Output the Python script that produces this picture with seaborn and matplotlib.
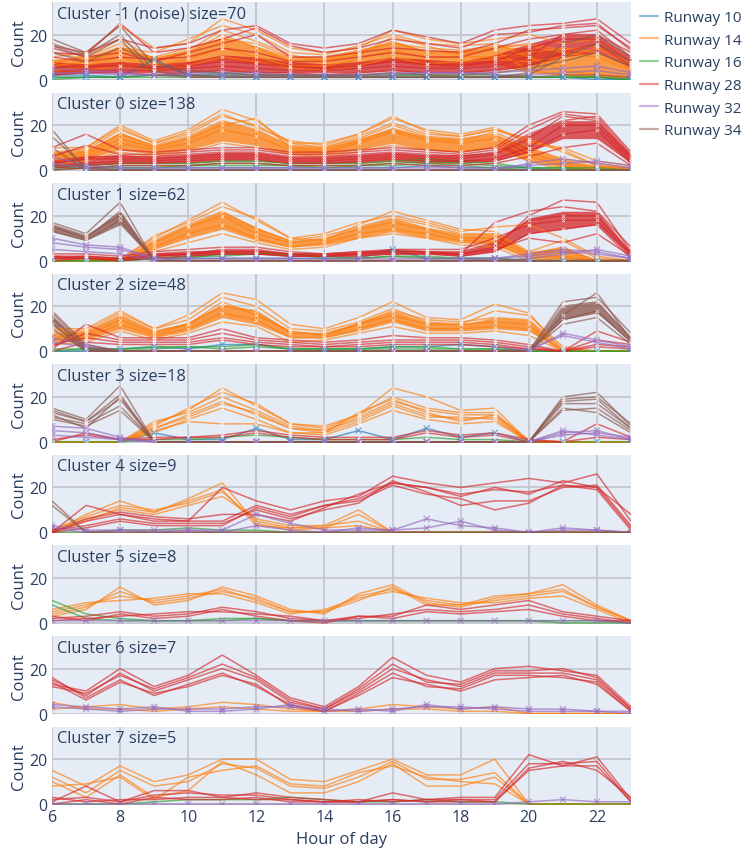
import numpy as np
import pandas as pd
import matplotlib
matplotlib.use("Agg")
import matplotlib.pyplot as plt
from matplotlib.lines import Line2D
import seaborn as sns

# ---------------------------------------------------------------------------
# Data: hourly movement counts per runway, grouped by day-cluster
# ---------------------------------------------------------------------------
HOURS = list(range(6, 24))
RUNWAYS = ["Runway 10", "Runway 14", "Runway 16", "Runway 28", "Runway 32", "Runway 34"]
CLUSTER_IDS = [-1, 0, 1, 2, 3, 4, 5, 6, 7]
CLUSTER_SIZES = [70, 138, 62, 48, 18, 9, 8, 7, 5]
X_TICKS = [6, 8, 10, 12, 14, 16, 18, 20, 22]
Y_TICKS = [0, 20]

Z = [0] * 18

cluster_noise = {
    "Runway 10": [[1, 1, 1, 2, 2, 2, 1, 1, 1, 1, 1, 1, 1, 1, 1, 1, 1, 0],
                  [2, 2, 1, 9, 2, 1, 1, 1, 1, 1, 1, 1, 1, 1, 1, 1, 0, 0]],
    "Runway 14": [[8, 10, 16, 8, 12, 20, 14, 8, 9, 12, 17, 12, 12, 13, 4, 2, 1, 1],
                  [4, 6, 10, 6, 9, 14, 10, 6, 6, 9, 13, 10, 10, 10, 12, 14, 12, 5],
                  [6, 8, 12, 10, 14, 18, 16, 10, 10, 13, 16, 14, 13, 15, 15, 12, 10, 4],
                  [10, 12, 24, 14, 16, 27, 22, 14, 12, 14, 22, 18, 16, 18, 20, 16, 18, 8],
                  [3, 4, 6, 4, 6, 10, 8, 5, 4, 6, 10, 7, 8, 9, 8, 10, 14, 6],
                  [12, 9, 14, 12, 18, 24, 20, 12, 11, 15, 20, 16, 15, 16, 10, 4, 2, 1],
                  [7, 11, 18, 9, 13, 22, 17, 11, 8, 11, 19, 15, 11, 14, 16, 13, 15, 7]],
    "Runway 16": [[1, 1, 1, 1, 1, 2, 2, 2, 1, 1, 2, 2, 1, 1, 1, 1, 1, 0],
                  [0, 1, 1, 2, 2, 3, 2, 2, 2, 2, 2, 2, 2, 2, 1, 1, 1, 0]],
    "Runway 28": [[15, 12, 18, 14, 16, 22, 24, 16, 14, 16, 22, 19, 16, 22, 24, 25, 27, 16],
                  [5, 6, 6, 5, 6, 8, 7, 6, 5, 6, 8, 7, 6, 8, 14, 18, 18, 8],
                  [3, 4, 4, 4, 5, 6, 5, 4, 4, 5, 6, 5, 5, 6, 10, 20, 22, 10],
                  [10, 8, 10, 9, 10, 14, 12, 8, 8, 10, 12, 10, 10, 14, 18, 20, 20, 12],
                  [14, 10, 12, 8, 12, 16, 20, 10, 10, 12, 14, 13, 12, 16, 22, 23, 24, 14],
                  [2, 3, 3, 2, 3, 4, 3, 3, 2, 3, 4, 3, 3, 4, 6, 12, 16, 6],
                  [12, 11, 25, 12, 14, 18, 23, 15, 12, 14, 18, 16, 14, 20, 21, 24, 25, 13]],
    "Runway 32": [[3, 3, 2, 2, 3, 3, 3, 2, 2, 2, 3, 3, 3, 3, 4, 5, 6, 3],
                  [5, 4, 3, 2, 2, 2, 2, 2, 2, 2, 2, 3, 3, 2, 2, 3, 4, 2]],
    "Runway 34": [[18, 12, 24, 6, 4, 3, 2, 2, 2, 2, 3, 2, 2, 3, 5, 8, 12, 6],
                  [15, 10, 18, 2, 1, 1, 1, 1, 1, 1, 1, 1, 1, 1, 2, 10, 16, 8],
                  [12, 8, 14, 8, 2, 1, 1, 1, 1, 1, 1, 1, 1, 1, 1, 2, 2, 1],
                  [16, 11, 20, 4, 1, 1, 1, 1, 1, 1, 1, 1, 1, 1, 3, 16, 20, 10]],
}
cluster_noise_core = {
    "Runway 14": ([3, 4, 6, 4, 6, 9, 7, 5, 5, 6, 8, 6, 6, 7, 3, 2, 1, 1],
                  [9, 10, 15, 10, 13, 19, 15, 10, 10, 13, 17, 13, 13, 15, 14, 13, 12, 5]),
    "Runway 28": ([2, 3, 3, 3, 3, 4, 3, 3, 3, 3, 4, 3, 3, 4, 6, 10, 12, 5],
                  [8, 7, 8, 7, 8, 11, 10, 8, 7, 8, 10, 9, 8, 11, 16, 20, 20, 10]),
}

cluster_0 = {
    "Runway 10": [[1, 1, 1, 1, 1, 1, 1, 1, 1, 1, 1, 2, 1, 1, 1, 0, 0, 0]],
    "Runway 14": [[10, 10, 20, 13, 18, 27, 22, 12, 12, 16, 23, 18, 16, 19, 12, 10, 4, 2],
                  [6, 8, 16, 11, 15, 22, 18, 11, 10, 14, 20, 15, 14, 16, 8, 3, 1, 1],
                  [4, 6, 12, 9, 12, 18, 15, 9, 8, 12, 17, 13, 12, 14, 6, 2, 0, 0],
                  [8, 9, 18, 12, 16, 24, 20, 12, 10, 15, 21, 16, 15, 18, 14, 8, 2, 1],
                  [2, 4, 8, 6, 8, 12, 10, 7, 6, 8, 11, 9, 8, 10, 4, 0, 0, 0],
                  [5, 7, 14, 10, 14, 20, 23, 10, 9, 13, 18, 14, 13, 17, 10, 5, 3, 1],
                  [7, 10, 19, 12, 17, 25, 19, 13, 11, 16, 24, 17, 15, 18, 13, 9, 2, 0]],
    "Runway 16": [[1, 1, 2, 2, 2, 3, 3, 2, 2, 2, 3, 4, 3, 2, 1, 1, 0, 0],
                  [0, 1, 1, 1, 2, 2, 2, 2, 1, 2, 2, 3, 2, 1, 0, 0, 0, 0],
                  [2, 2, 3, 3, 3, 4, 4, 3, 3, 3, 4, 5, 4, 3, 1, 1, 1, 0]],
    "Runway 28": [[10, 16, 9, 8, 9, 10, 10, 8, 8, 9, 10, 9, 8, 10, 20, 26, 25, 8],
                  [3, 5, 5, 5, 6, 7, 7, 5, 5, 6, 7, 6, 5, 7, 14, 24, 22, 5],
                  [2, 3, 4, 4, 5, 6, 6, 4, 4, 5, 6, 5, 4, 5, 10, 20, 20, 4],
                  [1, 2, 3, 3, 4, 5, 5, 3, 3, 4, 5, 4, 4, 4, 8, 16, 18, 3],
                  [4, 6, 6, 6, 7, 8, 8, 6, 6, 7, 8, 7, 6, 8, 16, 22, 24, 7],
                  [0, 1, 2, 2, 2, 3, 3, 2, 2, 2, 3, 2, 2, 3, 6, 10, 12, 2],
                  [6, 11, 7, 7, 8, 9, 9, 7, 7, 8, 9, 8, 7, 9, 18, 25, 23, 6]],
    "Runway 32": [[6, 2, 1, 1, 1, 1, 1, 1, 1, 1, 1, 1, 1, 1, 2, 3, 4, 2],
                  [3, 1, 0, 0, 0, 0, 0, 0, 0, 0, 0, 0, 0, 0, 3, 5, 3, 1]],
    "Runway 34": [[18] + Z[1:], [15, 1] + Z[2:], [10] + Z[1:]],
}
cluster_0_core = {
    "Runway 14": ([3, 5, 9, 7, 9, 13, 11, 7, 7, 9, 12, 9, 8, 10, 4, 1, 0, 0],
                  [8, 9, 17, 11, 15, 22, 18, 11, 10, 14, 19, 15, 14, 16, 10, 5, 2, 1]),
    "Runway 28": ([1, 2, 3, 3, 3, 4, 4, 3, 3, 3, 4, 3, 3, 4, 8, 14, 14, 3],
                  [4, 6, 7, 6, 7, 8, 8, 6, 6, 7, 8, 7, 7, 8, 16, 22, 22, 7]),
}

cluster_1 = {
    "Runway 10": [[0, 0, 0, 1, 1, 1, 1, 1, 1, 1, 5, 1, 1, 1, 0, 0, 0, 0]],
    "Runway 14": [[0, 0, 0, 8, 15, 20, 12, 8, 10, 14, 17, 14, 10, 10, 2, 5, 0, 0],
                  [0, 1, 1, 10, 18, 26, 18, 10, 9, 16, 22, 18, 14, 13, 4, 9, 1, 0],
                  [0, 0, 0, 6, 12, 16, 10, 6, 8, 12, 14, 12, 9, 8, 1, 2, 0, 0],
                  [0, 0, 0, 9, 16, 22, 14, 9, 11, 15, 19, 16, 12, 12, 3, 6, 0, 0],
                  [0, 0, 1, 4, 8, 12, 8, 5, 6, 10, 12, 10, 7, 6, 0, 1, 0, 0],
                  [0, 0, 0, 11, 17, 24, 19, 10, 12, 17, 20, 17, 13, 15, 16, 10, 2, 0]],
    "Runway 16": [[0, 0, 0, 1, 2, 2, 3, 3, 1, 1, 2, 2, 1, 1, 0, 0, 0, 0],
                  [0, 0, 0, 1, 1, 3, 3, 3, 2, 1, 2, 1, 1, 1, 0, 0, 0, 0]],
    "Runway 28": [[2, 2, 1, 3, 4, 4, 4, 3, 3, 4, 4, 4, 4, 8, 18, 20, 20, 3],
                  [1, 1, 0, 2, 3, 5, 5, 3, 2, 3, 5, 4, 3, 6, 20, 27, 26, 4],
                  [3, 3, 2, 4, 5, 6, 6, 4, 3, 4, 5, 5, 5, 10, 16, 18, 18, 2],
                  [0, 1, 0, 1, 2, 3, 3, 2, 2, 2, 3, 3, 2, 4, 12, 14, 16, 1],
                  [2, 1, 1, 3, 3, 4, 4, 3, 3, 3, 4, 4, 3, 17, 22, 24, 22, 6],
                  [1, 2, 1, 2, 3, 3, 3, 2, 2, 3, 3, 3, 3, 5, 10, 8, 12, 2]],
    "Runway 32": [[8, 6, 5, 1, 1, 1, 1, 1, 1, 1, 1, 1, 1, 1, 2, 4, 3, 1],
                  [5, 4, 3, 0, 0, 0, 0, 0, 0, 0, 0, 0, 0, 0, 1, 3, 5, 2],
                  [10, 7, 6, 1, 0, 0, 0, 0, 0, 0, 0, 0, 0, 1, 3, 5, 4, 1]],
    "Runway 34": [[15, 10, 22] + Z[3:], [17, 12, 26] + Z[3:],
                  [13, 9, 18] + Z[3:], [16, 11, 20] + Z[3:]],
}
cluster_1_core = {
    "Runway 14": ([0, 0, 0, 5, 10, 14, 9, 6, 7, 10, 13, 10, 8, 7, 1, 1, 0, 0],
                  [0, 0, 0, 9, 16, 22, 15, 9, 10, 15, 19, 15, 12, 12, 4, 6, 0, 0]),
    "Runway 28": ([1, 1, 0, 2, 2, 3, 3, 2, 2, 2, 3, 3, 2, 4, 12, 14, 16, 2],
                  [2, 2, 1, 3, 4, 5, 5, 3, 3, 4, 5, 4, 4, 8, 19, 22, 22, 4]),
    "Runway 34": ([13, 9, 16] + Z[3:], [16, 11, 22] + Z[3:]),
}

cluster_2 = {
    "Runway 10": [[0, 0, 1, 2, 1, 3, 3, 1, 1, 1, 2, 2, 3, 2, 0, 0, 0, 0]],
    "Runway 14": [[8, 8, 16, 9, 12, 20, 18, 8, 8, 12, 16, 12, 12, 13, 12, 0, 0, 0],
                  [10, 10, 18, 10, 16, 26, 23, 12, 10, 15, 22, 15, 14, 21, 17, 0, 0, 0],
                  [5, 6, 12, 7, 10, 17, 14, 6, 6, 10, 14, 10, 10, 11, 10, 0, 0, 0],
                  [6, 7, 14, 8, 12, 22, 16, 9, 7, 12, 18, 14, 13, 15, 14, 1, 0, 0],
                  [3, 4, 9, 5, 8, 13, 11, 4, 5, 8, 11, 8, 8, 9, 7, 0, 0, 0],
                  [9, 9, 17, 10, 14, 24, 20, 10, 9, 13, 19, 13, 12, 18, 16, 2, 0, 0]],
    "Runway 16": [[0, 1, 1, 1, 2, 2, 3, 1, 1, 1, 1, 1, 1, 1, 0, 0, 0, 0],
                  [1, 1, 1, 2, 2, 1, 2, 1, 1, 1, 2, 2, 1, 1, 0, 0, 0, 0]],
    "Runway 28": [[2, 8, 5, 5, 5, 8, 5, 4, 3, 4, 5, 5, 5, 4, 2, 0, 5, 3],
                  [1, 12, 6, 6, 6, 10, 6, 5, 4, 5, 7, 6, 6, 5, 3, 0, 9, 4],
                  [3, 6, 4, 4, 4, 6, 4, 3, 2, 3, 4, 4, 4, 3, 1, 0, 3, 2],
                  [0, 4, 3, 3, 3, 5, 3, 2, 2, 2, 3, 3, 3, 2, 1, 0, 2, 1]],
    "Runway 32": [[6, 3] + Z[2:14] + [1, 7, 4, 1],
                  [4, 2] + Z[2:14] + [0, 8, 5, 2]],
    "Runway 34": [[17, 2] + Z[2:15] + [20, 22, 6],
                  [15, 1] + Z[2:15] + [16, 26, 5],
                  [12, 0] + Z[2:15] + [14, 18, 4],
                  [18, 3] + Z[2:15] + [22, 24, 8],
                  [10, 0] + Z[2:15] + [12, 15, 3]],
}
cluster_2_core = {
    "Runway 14": ([4, 5, 10, 6, 9, 15, 12, 6, 6, 9, 13, 9, 9, 10, 9, 0, 0, 0],
                  [8, 9, 16, 9, 13, 21, 18, 9, 8, 13, 18, 13, 12, 15, 14, 0, 0, 0]),
    "Runway 34": ([12, 0] + Z[2:15] + [14, 17, 4],
                  [16, 2] + Z[2:15] + [20, 22, 6]),
}

cluster_3 = {
    "Runway 10": [[0, 0, 0, 4, 1, 1, 6, 1, 1, 5, 1, 6, 2, 4, 0, 0, 0, 0]],
    "Runway 14": [[0, 0, 0, 6, 12, 18, 12, 6, 5, 10, 17, 12, 10, 11, 0, 0, 0, 0],
                  [0, 0, 0, 8, 14, 24, 16, 8, 6, 12, 24, 20, 14, 15, 0, 0, 0, 0],
                  [0, 0, 0, 4, 10, 15, 10, 4, 3, 8, 14, 10, 8, 9, 0, 0, 0, 0],
                  [0, 0, 0, 9, 13, 20, 14, 7, 5, 11, 18, 14, 12, 12, 1, 0, 0, 0],
                  [0, 0, 0, 5, 9, 8, 8, 4, 4, 9, 16, 11, 11, 10, 0, 0, 0, 0],
                  [0, 0, 0, 7, 15, 22, 17, 8, 7, 12, 20, 15, 13, 13, 0, 0, 0, 0],
                  [0, 0, 0, 6, 11, 17, 13, 6, 4, 13, 19, 13, 9, 12, 0, 0, 0, 0]],
    "Runway 16": [[0, 0, 0, 1, 1, 2, 3, 2, 1, 1, 1, 2, 1, 1, 0, 0, 0, 0]],
    "Runway 28": [[1, 3, 1, 2, 2, 3, 5, 3, 2, 2, 2, 5, 3, 4, 1, 0, 2, 1],
                  [0, 4, 1, 1, 2, 2, 4, 2, 1, 1, 1, 4, 2, 3, 0, 0, 8, 2]],
    "Runway 32": [[5, 4, 1] + Z[3:15] + [4, 5, 1],
                  [7, 6, 2] + Z[3:15] + [5, 3, 1],
                  [3, 2, 1] + Z[3:15] + [3, 4, 2]],
    "Runway 34": [[13, 9, 19] + Z[3:15] + [17, 17, 6],
                  [15, 10, 25] + Z[3:15] + [20, 22, 7],
                  [11, 8, 16] + Z[3:15] + [14, 15, 5],
                  [14, 9, 21] + Z[3:15] + [18, 19, 6],
                  [10, 7, 14] + Z[3:15] + [15, 13, 4],
                  [12, 6, 20] + Z[3:15] + [19, 20, 8]],
}

cluster_4 = {
    "Runway 14": [[1, 7, 12, 10, 13, 18, 5, 2, 3, 10, 0, 0, 0, 0, 0, 0, 0, 0],
                  [0, 8, 14, 9, 15, 22, 4, 1, 2, 8, 0, 0, 0, 0, 0, 0, 0, 0],
                  [1, 6, 10, 8, 12, 16, 6, 3, 3, 5, 0, 0, 0, 0, 0, 0, 0, 0],
                  [0, 5, 11, 9, 14, 19, 3, 2, 2, 3, 0, 0, 0, 0, 0, 0, 0, 0]],
    "Runway 16": [[0, 0, 1, 1, 2, 1, 1, 0, 0, 0, 0, 0, 0, 0, 0, 0, 0, 0]],
    "Runway 28": [[0, 5, 8, 5, 5, 5, 12, 8, 12, 15, 22, 20, 17, 19, 18, 21, 20, 2],
                  [0, 12, 8, 6, 5, 20, 14, 10, 14, 16, 25, 22, 20, 22, 24, 22, 26, 5],
                  [1, 3, 6, 4, 4, 4, 10, 6, 10, 13, 23, 18, 12, 14, 14, 20, 21, 3],
                  [0, 6, 9, 7, 6, 8, 8, 5, 11, 17, 22, 20, 16, 20, 17, 23, 20, 8],
                  [0, 2, 5, 3, 3, 3, 11, 7, 12, 14, 21, 17, 15, 10, 13, 21, 19, 1]],
    "Runway 32": [[3, 1, 1, 1, 1, 1, 8, 4, 1, 1, 1, 6, 3, 2, 0, 1, 1, 0],
                  [2, 0, 1, 0, 1, 0, 3, 1, 0, 2, 1, 2, 5, 1, 0, 2, 1, 0]],
    "Runway 34": [[14] + Z[1:], [12] + Z[1:]],
}

cluster_5 = {
    "Runway 14": [[5, 8, 12, 10, 12, 15, 10, 5, 5, 12, 15, 10, 8, 10, 12, 14, 7, 1],
                  [3, 6, 16, 8, 10, 16, 12, 6, 4, 13, 17, 9, 7, 11, 13, 17, 8, 1],
                  [6, 9, 10, 11, 13, 13, 9, 4, 6, 11, 14, 11, 9, 9, 11, 12, 6, 0],
                  [4, 7, 14, 9, 11, 14, 11, 5, 5, 10, 16, 8, 8, 12, 13, 15, 7, 1]],
    "Runway 16": [[10, 4, 2, 1, 1, 2, 2, 1, 1, 1, 1, 1, 1, 1, 1, 1, 1, 0],
                  [8, 2, 1, 1, 1, 1, 2, 1, 1, 1, 1, 1, 1, 1, 1, 0, 0, 0]],
    "Runway 28": [[2, 3, 5, 3, 4, 7, 5, 2, 1, 3, 3, 8, 6, 8, 10, 5, 3, 1],
                  [1, 2, 3, 4, 5, 5, 4, 3, 1, 2, 4, 6, 5, 6, 8, 4, 2, 0],
                  [3, 1, 4, 2, 3, 6, 3, 1, 0, 3, 2, 5, 4, 5, 6, 3, 1, 1]],
    "Runway 32": [[1, 1, 1, 1, 1, 1, 1, 1, 1, 1, 1, 1, 1, 1, 1, 1, 1, 0]],
}

cluster_6 = {
    "Runway 14": [[2, 3, 4, 2, 3, 5, 4, 2, 1, 2, 4, 3, 2, 3, 0, 0, 0, 0],
                  [5, 2, 2, 1, 2, 3, 2, 1, 1, 1, 2, 2, 1, 1, 0, 0, 0, 0]],
    "Runway 28": [[15, 8, 18, 10, 15, 20, 15, 5, 2, 10, 20, 15, 12, 18, 18, 18, 15, 2],
                  [13, 10, 20, 12, 17, 26, 17, 7, 3, 12, 25, 17, 14, 20, 21, 19, 17, 3],
                  [16, 7, 15, 8, 13, 18, 12, 4, 1, 8, 16, 13, 10, 15, 16, 17, 13, 1],
                  [12, 9, 17, 11, 16, 22, 16, 6, 2, 11, 22, 14, 13, 19, 19, 20, 16, 2],
                  [14, 6, 14, 9, 12, 17, 13, 3, 1, 9, 18, 12, 11, 17, 17, 16, 14, 1]],
    "Runway 32": [[3, 2, 1, 2, 2, 2, 3, 3, 2, 1, 2, 3, 3, 2, 1, 1, 1, 0],
                  [4, 3, 2, 3, 1, 1, 2, 4, 1, 2, 1, 4, 2, 3, 2, 2, 1, 1]],
}

cluster_7 = {
    "Runway 14": [[15, 8, 17, 10, 13, 20, 20, 11, 10, 15, 20, 13, 13, 20, 0, 0, 0, 0],
                  [12, 5, 15, 8, 10, 18, 16, 8, 7, 12, 19, 11, 11, 14, 0, 0, 0, 0],
                  [10, 3, 13, 3, 6, 19, 13, 5, 5, 10, 18, 8, 8, 12, 0, 0, 0, 0],
                  [8, 9, 12, 2, 12, 15, 17, 9, 8, 14, 17, 12, 10, 9, 0, 0, 0, 0]],
    "Runway 16": [[0, 0, 0, 1, 2, 2, 2, 3, 2, 1, 1, 2, 1, 1, 0, 0, 0, 0]],
    "Runway 28": [[1, 8, 1, 6, 6, 3, 5, 3, 2, 1, 5, 2, 3, 3, 22, 17, 21, 2],
                  [2, 3, 1, 4, 5, 4, 4, 2, 1, 2, 1, 2, 2, 2, 18, 18, 19, 1],
                  [0, 2, 0, 3, 2, 2, 3, 1, 1, 1, 2, 1, 2, 1, 15, 17, 17, 1],
                  [3, 1, 2, 2, 3, 3, 2, 2, 1, 1, 2, 1, 1, 1, 16, 19, 15, 3]],
    "Runway 32": [[0] * 14 + [1, 2, 1, 1]],
}

CLUSTER_LINES = [cluster_noise, cluster_0, cluster_1, cluster_2, cluster_3,
                 cluster_4, cluster_5, cluster_6, cluster_7]
CLUSTER_CORES = [cluster_noise_core, cluster_0_core, cluster_1_core, cluster_2_core,
                 {}, {}, {}, {}, {}]

# ---------------------------------------------------------------------------
# Styling
# ---------------------------------------------------------------------------
PALETTE = {
    "Runway 10": "#1f77b4",
    "Runway 14": "#ff7f0e",
    "Runway 16": "#2ca02c",
    "Runway 28": "#d62728",
    "Runway 32": "#9467bd",
    "Runway 34": "#8c564b",
}
TEXT_COLOR = "#2a3f5f"
PANEL_BG = "#e5ecf6"
GRID_COLOR = "#c4c8ce"

sns.set_theme(style="white")
plt.rcParams["font.family"] = ["Open Sans", "DejaVu Sans"]
plt.rcParams["text.color"] = TEXT_COLOR
plt.rcParams["axes.labelcolor"] = TEXT_COLOR
plt.rcParams["xtick.color"] = TEXT_COLOR
plt.rcParams["ytick.color"] = TEXT_COLOR

fig = plt.figure(figsize=(7.56, 8.54), dpi=100)
gs = fig.add_gridspec(len(CLUSTER_IDS), 1, left=52 / 756, right=631 / 756,
                      top=1 - 3 / 854, bottom=1 - 806 / 854, hspace=0.155)

axes = []
for i, (cid, size) in enumerate(zip(CLUSTER_IDS, CLUSTER_SIZES)):
    ax = fig.add_subplot(gs[i, 0], sharex=axes[0] if axes else None)
    axes.append(ax)
    ax.set_facecolor(PANEL_BG)
    for s in ax.spines.values():
        s.set_visible(False)

    ax.grid(True, color=GRID_COLOR, linewidth=1.3, zorder=0)
    ax.set_axisbelow(True)

    lines = CLUSTER_LINES[i]
    cores = CLUSTER_CORES[i]

    # dense core of the distribution for the biggest groups
    for rw in RUNWAYS:
        if rw in cores:
            lo, hi = cores[rw]
            ax.fill_between(HOURS, lo, hi, color=PALETTE[rw], alpha=0.75,
                            linewidth=0, zorder=1)

    rows = []
    for rw in RUNWAYS:
        for d, prof in enumerate(lines.get(rw, [])):
            for h, v in zip(HOURS, prof):
                rows.append({"hour": h, "count": v, "runway": rw, "day": f"{rw}-{d}"})
    df = pd.DataFrame(rows)
    present = [r for r in RUNWAYS if r in lines]

    sns.lineplot(data=df, x="hour", y="count", hue="runway", hue_order=present,
                 units="day", estimator=None, palette=PALETTE, alpha=0.65,
                 linewidth=1.1, legend=False, ax=ax, sort=False, zorder=2)

    # per-hour markers
    if size >= 18:
        sns.scatterplot(data=df, x="hour", y="count", color="white", marker="x",
                        s=6, linewidth=0.6, alpha=0.75, legend=False, ax=ax, zorder=3)
    low = df[df["runway"].isin(["Runway 32", "Runway 10"])]
    if len(low):
        sns.scatterplot(data=low, x="hour", y="count", hue="runway",
                        palette=PALETTE, marker="x", s=18, linewidth=1.0,
                        alpha=0.55, legend=False, ax=ax, zorder=3)

    label = f"Cluster {cid} (noise) size={size}" if cid == -1 else f"Cluster {cid} size={size}"
    ax.text(0.008, 0.955, label, transform=ax.transAxes, ha="left", va="top",
            fontsize=11.8, color=TEXT_COLOR, zorder=5)

    ax.set_xlim(6, 23)
    ax.set_ylim(-0.4, 34.5)
    ax.set_yticks(Y_TICKS)
    ax.set_xticks(X_TICKS)
    ax.tick_params(axis="both", length=0, labelsize=11.5, pad=3)
    ax.set_ylabel("Count", fontsize=12, labelpad=2)
    if i < len(CLUSTER_IDS) - 1:
        ax.tick_params(axis="x", labelbottom=False)
        ax.set_xlabel("")
    else:
        ax.set_xlabel("Hour of day", fontsize=12, labelpad=4)

handles = [Line2D([0], [0], color=PALETTE[r], lw=1.6, alpha=0.5) for r in RUNWAYS]
fig.legend(handles, RUNWAYS, loc="upper left", bbox_to_anchor=(634 / 756, 1 - 5 / 854),
           frameon=False, fontsize=11, handlelength=1.2, handletextpad=0.35,
           labelspacing=0.5, labelcolor=TEXT_COLOR, borderaxespad=0)

fig.savefig("out.png", dpi=100, facecolor="white")
